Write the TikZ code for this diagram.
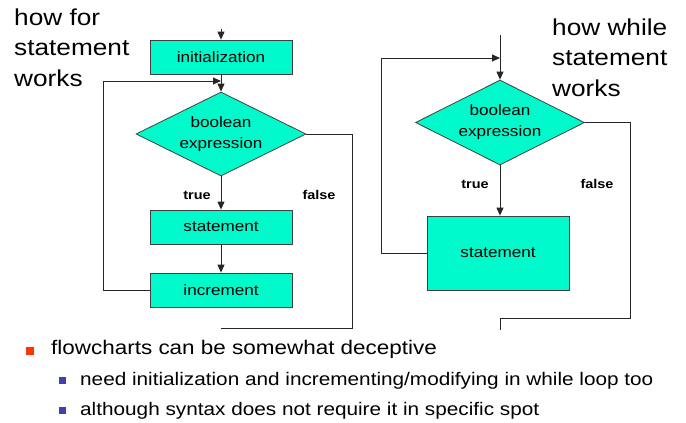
\documentclass[tikz,border=0pt]{standalone}
\usepackage{fontspec}
\setmainfont{Liberation Sans}
\usetikzlibrary{shapes.geometric,arrows.meta}
\definecolor{boxfill}{RGB}{0,250,204}
\definecolor{bulletred}{RGB}{255,51,0}
\definecolor{bulletblue}{RGB}{64,64,176}
\newcommand\wide[1]{\scalebox{1.14}[1]{#1}}
\tikzset{
	flowbox/.style={draw=black!75, line width=0.8pt, fill=boxfill, minimum width=142pt, minimum height=34pt, inner sep=0pt, font=\fontsize{15}{21}\selectfont},
	decision/.style={diamond, aspect=2, draw=black!75, line width=0.8pt, fill=boxfill, inner sep=0pt, align=center, font=\fontsize{15}{21}\selectfont},
	flow/.style={line width=0.9pt, draw=black!85, -{Triangle[length=8pt,width=7pt]}},
	wire/.style={line width=0.9pt, draw=black!85},
	branch/.style={font=\bfseries\fontsize{12.7}{15}\selectfont},
	title/.style={anchor=north west, inner sep=0pt, align=left, font=\fontsize{23}{30.5}\selectfont},
}

\begin{document}
\begin{tikzpicture}[x=1pt, y=-1pt]
			%%%%% START %%%%%
			\useasboundingbox (0, 0) rectangle (686, 423);
			
			% for loop
			\node[title] (fortitle) at (14, 8.5) {\wide{how for}\\\wide{statement}\\\wide{works}};
			\coordinate (forin) at (221, 29);
			\node[flowbox] (init) at (221, 57) {\wide{initialization}};
			\node[decision, minimum width=170pt, minimum height=84pt] (cond) at (221, 134) {\wide{boolean}\\\wide{expression}};
			\node[flowbox] (body) at (221, 227) {\wide{statement}};
			\node[flowbox] (incr) at (221, 290) {\wide{increment}};
			\coordinate (forjoin) at (221, 81);
			\coordinate (forexit) at (221, 328);
			\node[branch] (fortrue) at (197, 195) {\wide{true}};
			\node[branch] (forfalse) at (319, 195) {\wide{false}};
			
			\draw[flow] (forin) -- (init);
			\draw[flow] (init) -- (cond);
			\draw[flow] (cond) -- (body);
			\draw[flow] (body) -- (incr);
			\draw[flow] (incr.west) -- ++(-46, 0) |- (forjoin);
			\draw[wire] (cond.east) -- ++(46, 0) |- (forexit);
			
			% while loop
			\node[title] (whiletitle) at (552, 18.5) {\wide{how while}\\\wide{statement}\\\wide{works}};
			\coordinate (whilein) at (500, 35);
			\node[decision, minimum width=169pt, minimum height=85pt] (wcond) at (500, 122.5) {\wide{boolean}\\\wide{expression}};
			\node[flowbox, minimum height=74pt] (wbody) at (498, 253) {\wide{statement}};
			\coordinate (wjoin) at (500, 58);
			\coordinate (wturn) at (500, 318);
			\coordinate (wexit) at (500, 330);
			\node[branch] (wtrue) at (475, 184) {\wide{true}};
			\node[branch] (wfalse) at (597, 184) {\wide{false}};
			
			\draw[flow] (whilein) -- (wcond);
			\draw[flow] (wcond) -- (wcond.south |- wbody.north);
			\draw[flow] (wbody.west) -- ++(-45, 0) |- (wjoin);
			\draw[wire] (wcond.east) -- ++(46, 0) |- (wturn) -- (wexit);
			
			% bullets
			\fill[bulletred] (26, 347) rectangle (34, 355);
			\node[anchor=base west, inner sep=0pt, font=\fontsize{19.7}{24}\selectfont] (point) at (51, 354) {\wide{flowcharts can be somewhat deceptive}};
			\fill[bulletblue] (59, 377) rectangle (66, 384);
			\node[anchor=base west, inner sep=0pt, font=\fontsize{18.2}{21}\selectfont] (subone) at (80, 385) {\wide{need initialization and incrementing/modifying in while loop too}};
			\fill[bulletblue] (59, 407) rectangle (66, 414);
			\node[anchor=base west, inner sep=0pt, font=\fontsize{18.2}{21}\selectfont] (subtwo) at (80, 415) {\wide{although syntax does not require it in specific spot}};
			%%%%% END %%%%%
\end{tikzpicture}
\end{document}
